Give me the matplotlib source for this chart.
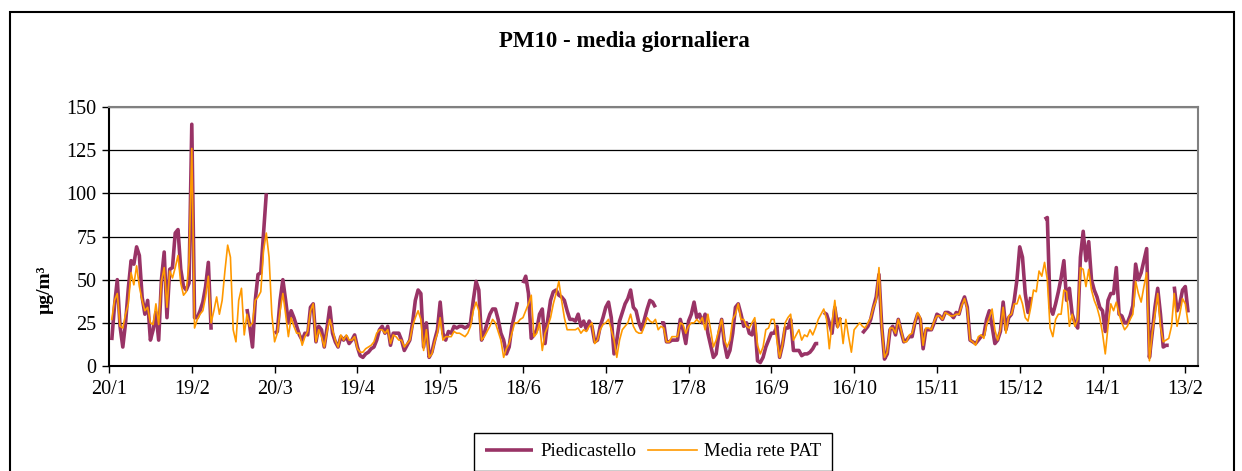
import numpy as np
import pandas as pd
import matplotlib
matplotlib.use("Agg")
import matplotlib.pyplot as plt
from matplotlib.patches import Rectangle

nan = np.nan

# daily PM10 (µg/m3), first value = 21/1/2008
piedicastello = [
    15, 35, 50, 23, 11, 25, 45, 61, 59, 69,
    64, 40, 30, 38, 15, 21, 31, 15, 50, 66,
    28, 56, 57, 77, 79, 56, 46, 44, 48, 140,
    28, 28, 32, 37, 46, 60, 21, nan, nan, nan,
    nan, nan, nan, nan, nan, nan, nan, nan, nan, 33,
    23, 11, 38, 53, 54, 77, 100, nan, nan, 19,
    20, 38, 50, 38, 25, 32, 28, 23, 18, 15,
    19, 18, 34, 36, 14, 23, 21, 11, 22, 34,
    19, 14, 11, 17, 15, 17, 13, 15, 18, 11,
    6, 5, 7, 8, 10, 11, 15, 21, 23, 19,
    23, 12, 19, 19, 19, 15, 9, 12, 15, 25,
    38, 44, 42, 11, 25, 5, 8, 15, 21, 37,
    19, 15, 20, 19, 23, 22, 23, 23, 22, 23,
    25, 38, 49, 44, 15, 19, 25, 30, 33, 33,
    27, 19, 15, 7, 11, 23, 30, 37, nan, 48,
    52, 42, 16, 18, 21, 30, 33, 13, 27, 38,
    43, 44, 41, 40, 38, 32, 27, 27, 26, 30,
    23, 26, 21, 26, 23, 14, 15, 23, 28, 34,
    37, 28, 7, 15, 26, 31, 36, 39, 44, 34,
    32, 25, 21, 27, 33, 38, 37, 34, nan, 25,
    25, 14, 14, 15, 15, 15, 27, 21, 13, 26,
    30, 37, 28, 30, 25, 30, 19, 12, 5, 7,
    19, 27, 13, 5, 9, 19, 34, 36, 30, 23,
    25, 19, 18, 25, 3, 2, 5, 11, 15, 19,
    19, 23, 5, 12, 22, 22, 27, 9, 9, 9,
    6, 7, 7, 8, 10, 13, 13, nan, 31, 30,
    25, 19, 34, 23, 28, nan, nan, nan, nan, nan,
    nan, nan, 19, 21, 23, 27, 34, 40, 53, 23,
    4, 7, 21, 23, 18, 27, 20, 14, 15, 17,
    17, 25, 30, 27, 10, 21, 21, 21, 25, 30,
    29, 27, 31, 31, 30, 28, 31, 30, 36, 40,
    34, 15, 14, 13, 15, 17, 18, 27, 32, 23,
    13, 15, 20, 37, 21, 28, 30, 38, 50, 69,
    63, 42, 31, 40, nan, nan, nan, nan, 85, 86,
    34, 30, 36, 43, 51, 61, 38, 45, 30, 25,
    22, 63, 78, 61, 72, 50, 44, 40, 34, 32,
    20, 38, 42, 42, 57, 30, 29, 25, 25, 29,
    35, 59, 50, 54, 61, 68, 5, 19, 34, 45,
    30, 11, 12, 12, nan, 46, 32, 36, 44, 46, 31,
]

media_pat = [
    27, 38, 42, 23, 22, 30, 36, 54, 47, 58,
    46, 38, 32, 34, 25, 24, 36, 24, 49, 57,
    34, 55, 51, 57, 64, 48, 41, 43, 60, 126,
    22, 27, 30, 32, 40, 52, 25, 32, 40, 30,
    38, 55, 70, 63, 21, 14, 38, 45, 18, 30,
    23, 25, 38, 40, 43, 67, 77, 63, 30, 14,
    19, 32, 42, 30, 17, 28, 23, 19, 19, 12,
    17, 20, 32, 36, 14, 21, 17, 11, 20, 27,
    21, 15, 11, 18, 15, 18, 15, 15, 17, 10,
    8, 8, 10, 11, 12, 14, 19, 21, 21, 19,
    21, 13, 18, 17, 15, 15, 11, 13, 15, 23,
    28, 32, 27, 9, 21, 5, 7, 14, 19, 28,
    15, 17, 17, 17, 20, 19, 19, 18, 17, 19,
    23, 32, 37, 32, 15, 17, 20, 23, 27, 25,
    20, 15, 5, 10, 13, 19, 25, 25, 27, 28,
    32, 36, 41, 17, 19, 25, 9, 19, 23, 28,
    36, 42, 49, 38, 28, 21, 21, 21, 21, 22,
    19, 21, 20, 23, 25, 13, 15, 21, 24, 25,
    27, 21, 15, 5, 15, 21, 23, 25, 30, 23,
    20, 19, 19, 23, 28, 26, 25, 27, 21, 23,
    22, 14, 14, 17, 17, 17, 25, 24, 19, 23,
    25, 25, 27, 25, 28, 21, 30, 21, 11, 15,
    21, 27, 15, 11, 15, 27, 30, 36, 27, 27,
    23, 22, 25, 28, 12, 7, 11, 21, 22, 27,
    27, 15, 5, 12, 25, 28, 30, 15, 18, 21,
    15, 18, 17, 21, 18, 22, 27, 30, 33, 27,
    10, 25, 38, 22, 28, 13, 27, 17, 8, 21,
    23, 25, 23, 22, 25, 28, 34, 38, 57, 22,
    5, 8, 22, 22, 19, 27, 21, 14, 14, 18,
    19, 25, 31, 28, 12, 22, 22, 21, 26, 29,
    29, 27, 31, 30, 29, 29, 30, 30, 35, 39,
    33, 15, 14, 12, 17, 18, 16, 24, 28, 33,
    21, 15, 21, 34, 19, 29, 30, 36, 36, 41,
    36, 28, 26, 34, 44, 43, 55, 52, 60, 50,
    22, 17, 27, 30, 30, 44, 43, 23, 30, 23,
    27, 57, 56, 46, 56, 44, 38, 34, 28, 19,
    7, 23, 36, 32, 37, 30, 25, 21, 23, 27,
    30, 49, 42, 37, 46, 54, 3, 19, 30, 42,
    23, 14, 15, 16, 23, 42, 23, 30, 39, 36, 25,
]

start = pd.Timestamp("2008-01-20")
tick_dates = pd.date_range(start, periods=14, freq="30D")
tick_labels = [f"{d.day}/{d.month}" for d in tick_dates]
y_ticks = [0, 25, 50, 75, 100, 125, 150]

plt.rcParams["font.family"] = ["Liberation Serif", "DejaVu Serif"]

W, H = 1242, 471
fig = plt.figure(figsize=(W / 100, H / 100), dpi=100)
ax = fig.add_axes([109 / W, 1 - 366 / H, (1198 - 109) / W, (366 - 107) / H])

days = np.arange(1, len(piedicastello) + 1)
ax.plot(days, piedicastello, color="#993366", lw=2.6, solid_capstyle="butt",
        label="Piedicastello", zorder=3)
ax.plot(days, media_pat, color="#FF9900", lw=1.2, label="Media rete PAT", zorder=4)

ax.set_xlim(0, 394.6)
ax.set_ylim(0, 150)
ax.set_yticks(y_ticks)
ax.set_xticks([(d - start).days for d in tick_dates])
ax.set_xticklabels(tick_labels)
ax.tick_params(axis="both", labelsize=14.5, direction="out", length=5, width=1, color="black")
ax.tick_params(axis="x", pad=5)
ax.tick_params(axis="y", pad=4)
ax.yaxis.grid(True, color="black", lw=0.9)
ax.set_axisbelow(True)
for s in ["left", "bottom"]:
    ax.spines[s].set_color("black")
    ax.spines[s].set_linewidth(1.5)
for s in ["top", "right"]:
    ax.spines[s].set_color("#808080")
    ax.spines[s].set_linewidth(1.5)

fig.text(45 / W, 1 - 290 / H, "µg/m³", rotation=90, ha="center", va="center",
         fontsize=14, fontweight="bold")
fig.text(624 / W, 1 - 42 / H, "PM10 - media giornaliera", ha="center", va="center",
         fontsize=16.5, fontweight="bold")

fig.legend(loc="upper center", bbox_to_anchor=(653 / W, 1 - 433 / H), ncol=2,
           frameon=True, fancybox=False, edgecolor="black", framealpha=1,
           fontsize=13.5, handlelength=2.6, handletextpad=0.4, columnspacing=0.6,
           borderpad=0.55, borderaxespad=0)

fig.patches.append(Rectangle((10 / W, -0.1), (1234 - 10) / W, 1 - 12 / H + 0.1,
                             transform=fig.transFigure, fill=False,
                             edgecolor="black", lw=1.5))

fig.savefig("out.png", dpi=100)
